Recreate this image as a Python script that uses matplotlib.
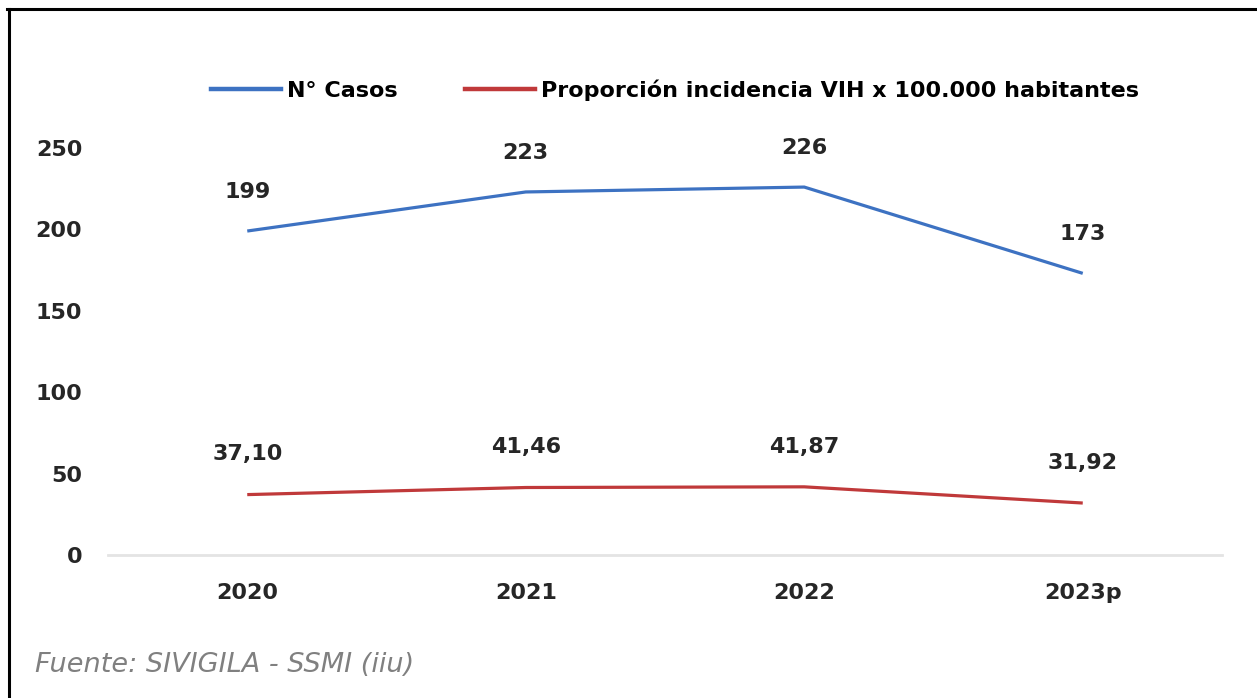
import matplotlib
matplotlib.use("Agg")
import matplotlib.pyplot as plt
from matplotlib.lines import Line2D

years = ["2020", "2021", "2022", "2023p"]
casos = [199, 223, 226, 173]
incidencia = [37.10, 41.46, 41.87, 31.92]
casos_labels = ["199", "223", "226", "173"]
incidencia_labels = ["37,10", "41,46", "41,87", "31,92"]
series_names = ["N° Casos", "Proporción incidencia VIH x 100.000 habitantes"]
source = "Fuente: SIVIGILA - SSMI (iiu)"

blue = "#3d72c2"
red = "#c0393a"
txt = "#262626"

plt.rcParams["font.family"] = ["DejaVu Sans"]

fig = plt.figure(figsize=(12.57, 6.98), dpi=100)
W, H = 1257, 698

# outer border (top and left)
fig.add_artist(Line2D([7 / W, 1], [1 - 8.5 / H, 1 - 8.5 / H], color="black", lw=2.2,
                      transform=fig.transFigure))
fig.add_artist(Line2D([8.5 / W, 8.5 / W], [0, 1 - 8.5 / H], color="black", lw=2.2,
                      transform=fig.transFigure))

ax = fig.add_axes([108 / W, 1 - 555 / H, (1222 - 108) / W, (555 - 148) / H])
x = list(range(len(years)))
ax.plot(x, casos, color=blue, lw=2.3, solid_capstyle="butt", label=series_names[0])
ax.plot(x, incidencia, color=red, lw=2.3, solid_capstyle="butt", label=series_names[1])

for xi, v, s in zip(x, casos, casos_labels):
    ax.annotate(s, (xi, v), xytext=(0, 28), textcoords="offset points", ha="center",
                va="center", fontsize=16, fontweight="bold", color=txt)
for xi, v, s in zip(x, incidencia, incidencia_labels):
    ax.annotate(s, (xi, v), xytext=(0, 29), textcoords="offset points", ha="center",
                va="center", fontsize=16, fontweight="bold", color=txt)

ax.set_xlim(-0.5, len(years) - 0.5)
ax.set_ylim(0, 250)
ax.set_yticks([0, 50, 100, 150, 200, 250])
ax.set_xticks(x)
ax.set_xticklabels(years)
for sp in ["top", "right", "left"]:
    ax.spines[sp].set_visible(False)
ax.spines["bottom"].set_color("#e4e4e4")
ax.spines["bottom"].set_linewidth(2)
ax.tick_params(axis="both", length=0, labelsize=16, colors=txt)
ax.tick_params(axis="y", pad=18.5)
ax.tick_params(axis="x", pad=20)
for lab in ax.get_xticklabels() + ax.get_yticklabels():
    lab.set_fontweight("bold")

handles = [Line2D([], [], color=blue, lw=3.2), Line2D([], [], color=red, lw=3.2)]
fig.legend(handles, series_names, loc="center", bbox_to_anchor=(675 / W, 1 - 90 / H),
           ncol=2, frameon=False, handlelength=3.15, handletextpad=0.27,
           columnspacing=3.0, prop={"weight": "bold", "size": 16})

fig.text(35 / W, 1 - 665 / H, source, fontsize=19.5, style="italic", color="#808080",
         ha="left", va="center")

fig.savefig("out.png", dpi=100)
